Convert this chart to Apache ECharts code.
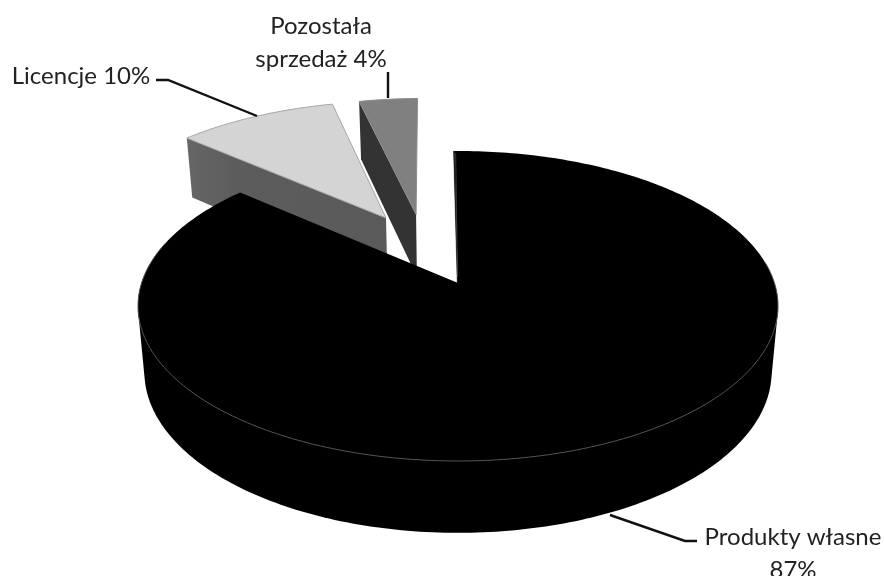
<!DOCTYPE html>
<html>
<head>
<meta charset="utf-8">
<script src="https://cdn.jsdelivr.net/npm/echarts@6/dist/echarts.min.js"></script>
<style>html,body{margin:0;padding:0;background:#fff}#c{width:884px;height:576px}</style>
</head>
<body>
<div id="c"></div>
<script>
const categories = ['Produkty własne', 'Licencje', 'Pozostała sprzedaż'];
const values = [86.6, 9.8, 3.6];
const labelLines = [['Produkty własne', '87%'], ['Licencje 10%'], ['Pozostała', 'sprzedaż 4%']];

// layout / styling
const CX = 458, CY = 306, RX = 320, RY = 155, V0 = -0.148;
const START = -0.8;
const explode = [[0, 0], [-0.243, -0.4585], [-0.142, -0.485]];
const topFill = ['#000000', '#d4d4d4', '#808080'];
const topStroke = ['#000000', '#a6a6a6', '#8c8c8c'];
const wallFill = ['#000000', null, '#333333'];
const labelPos = [[793, [537, 570]], [81, [76]], [321, [26, 59]]];
const leaders = [
  [[610, 515], [685, 541], [697, 541]],
  [[156, 80], [168, 80], [257, 116]],
  [[388, 72], [388, 98]]
];

const total = values.reduce((a, b) => a + b, 0);
function sliceRange(i) {
  let a = START;
  for (let k = 0; k < i; k++) a += values[k] / total * 360;
  return [a, a + values[i] / total * 360];
}
// planar point (u, v) on the disc seen through the camera's perspective
function project(u, v) {
  const d = 1 + V0 * v;
  return [CX + RX * u * Math.sqrt(1 - V0 * V0) / d, CY + RY * (v + V0) / d];
}
function rim(i, deg) {
  const t = deg * Math.PI / 180, e = explode[i];
  return project(e[0] + Math.sin(t), e[1] - Math.cos(t));
}
function apex(i) { return project(explode[i][0], explode[i][1]); }
function lower(p) { return [CX + (p[0] - CX) * 0.98, p[1] + 54 + 0.0387 * p[1]]; }
function arc(i, a, b) {
  const pts = [];
  const n = Math.max(2, Math.ceil(Math.abs(b - a)));
  for (let k = 0; k <= n; k++) pts.push(rim(i, a + (b - a) * k / n));
  return pts;
}
// outline around the top and bottom rims of the cylinder's visible wall
function hull(points) {
  const p = points.slice().sort((m, n) => m[0] - n[0] || m[1] - n[1]);
  const cross = (o, m, n) => (m[0] - o[0]) * (n[1] - o[1]) - (m[1] - o[1]) * (n[0] - o[0]);
  const half = list => {
    const h = [];
    for (const q of list) {
      while (h.length > 1 && cross(h[h.length - 2], h[h.length - 1], q) <= 0) h.pop();
      h.push(q);
    }
    h.pop();
    return h;
  };
  return half(p).concat(half(p.slice().reverse()));
}

function renderSlice(params, api) {
  const i = api.value(0);
  const [a, b] = sliceRange(i);
  const ap = apex(i);
  const top = arc(i, a, b);
  const children = [];
  if (i === 0) {
    const front = arc(0, 90, 270);
    children.push({ type: 'polygon', shape: { points: hull(front.concat(front.map(lower))) }, style: { fill: '#000' } });
    // sliver of the cut face at the start of the slice
    children.push({
      type: 'polygon',
      shape: { points: [top[0], ap, [ap[0] - 0.8, ap[1]], [top[0][0] - 0.6, top[0][1]]] },
      style: { fill: '#000', stroke: '#000', lineWidth: 0.4 }
    });
  } else {
    // cut face on the side turned towards the viewer
    const s = top[0];
    const wall = [s, ap, lower(ap), lower(s)];
    children.push({
      type: 'polygon', shape: { points: wall },
      style: {
        fill: i === 1
          ? new echarts.graphic.LinearGradient(0, 0, 1, 0, [{ offset: 0, color: '#666666' }, { offset: 0.25, color: '#5c5c5c' }, { offset: 1, color: '#5a5a5a' }])
          : wallFill[i]
      }
    });
  }
  children.push({
    type: 'polygon', shape: { points: top.concat([ap]) },
    style: { fill: topFill[i], stroke: topStroke[i], lineWidth: i === 0 ? 0 : 1, lineJoin: 'round' }
  });
  if (i === 0) {
    children.push({ type: 'polyline', shape: { points: arc(0, 82, 286) }, style: { fill: null, stroke: '#555555', lineWidth: 1 } });
    children.push({ type: 'line', shape: { x1: top[0][0] + 1.5, y1: top[0][1] + 2, x2: ap[0] - 0.5, y2: ap[1] - 6 }, style: { stroke: '#555', lineWidth: 0.7 } });
  }
  children.push({ type: 'polyline', shape: { points: leaders[i] }, style: { fill: null, stroke: '#111', lineWidth: 2.4 } });
  labelLines[i].forEach((txt, k) => {
    children.push({
      type: 'text',
      style: {
        x: labelPos[i][0], y: labelPos[i][1][k], text: txt,
        font: '24px Lato', fill: '#222222', align: 'center', verticalAlign: 'middle'
      }
    });
  });
  return { type: 'group', children };
}

const chart = echarts.init(document.getElementById('c'), null, { renderer: 'canvas' });
chart.setOption({
  animation: false,
  backgroundColor: '#ffffff',
  series: [{
    type: 'custom',
    coordinateSystem: 'none',
    name: 'Sprzedaż',
    encode: { value: 1, itemName: 2 },
    // drawn back to front
    data: [2, 1, 0].map(i => [i, values[i], categories[i]]),
    renderItem: renderSlice
  }]
});
</script>
</body>
</html>
